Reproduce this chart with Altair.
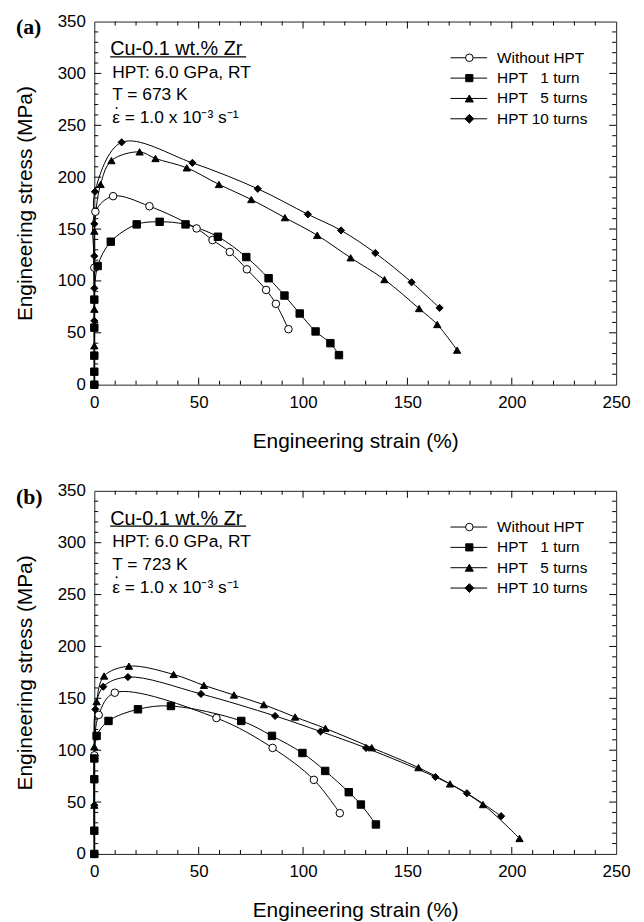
import altair as alt
import pandas as pd

SERIES = ["Without HPT", "HPT 1 turn", "HPT 5 turns", "HPT 10 turns"]
LEGEND_LABELS = ["Without HPT", "HPT \u20071 turn", "HPT \u20075 turns", "HPT 10 turns"]
SHAPES = ["circle", "square", "triangle-up", "diamond"]
FILLS = ["white", "black", "black", "black"]
SIZES = [58, 52, 66, 78]

X_LABELS = [0, 50, 100, 150, 200, 250]
Y_LABELS = [0, 50, 100, 150, 200, 250, 300, 350]
X_MAJOR = [50, 100, 150, 200]
X_MINOR = [v for v in range(10, 250, 10) if v % 50 != 0]
Y_MAJOR = [50, 100, 150, 200, 250, 300]
Y_MINOR = [v for v in range(10, 350, 10) if v % 50 != 0]

# ---- Panel (a): T = 673 K ----
a_none_strain = [0, 0, 0.5, 9.0, 26.4, 49.0, 56.6, 64.9, 73.1, 82.3, 87.0, 93.0]
a_none_stress = [0, 112.8, 166.7, 181.7, 172.0, 150.6, 139.4, 127.9, 111.2, 91.3, 77.9, 53.5]
a_1_strain = [0, 0, 0, 0, 0, 1.6, 7.9, 20.3, 31.3, 43.7, 59.2, 72.8, 83.5, 91.1, 98.4, 106.0, 113.1, 117.2]
a_1_stress = [0, 12.5, 28, 55, 82, 114.4, 137.8, 154.5, 157.0, 154.5, 142.6, 123.0, 102.6, 85.9, 68.6, 51.3, 40.0, 28.5]
a_5_strain = [0, 0, 0, 0, 3.0, 8.2, 21.7, 29.3, 44.3, 59.7, 75.2, 91.3, 106.8, 122.8, 139.0, 155.6, 164.3, 173.8]
a_5_stress = [0, 37.5, 72.8, 148.0, 193.0, 216.0, 224.4, 218.0, 209.0, 193.0, 178.5, 161.0, 144.0, 122.3, 101.3, 73.4, 58.0, 33.3]
a_10_strain = [0, 0, 0, 0, 0, 0.3, 13.1, 47.0, 78.3, 102.3, 118.2, 134.6, 152.0, 165.4]
a_10_stress = [0, 61.5, 93.0, 124.0, 155.0, 186.0, 233.6, 213.8, 188.8, 164.2, 148.7, 126.9, 98.7, 74.0]

# ---- Panel (b): T = 723 K ----
b_none_strain = [0, 0, 2.1, 9.8, 58.5, 85.4, 105.2, 117.6]
b_none_stress = [0, 95.0, 134.0, 155.4, 131.0, 102.2, 71.4, 39.3]
b_1_strain = [0, 0, 0, 0, 1.1, 6.8, 20.9, 36.7, 70.4, 85.1, 99.7, 110.6, 121.9, 127.7, 134.9]
b_1_stress = [0, 22.4, 72.0, 92.0, 113.8, 128.2, 139.4, 142.6, 128.2, 113.8, 97.3, 80.0, 59.5, 47.6, 28.4]
b_5_strain = [0, 0, 0, 1.1, 4.7, 16.6, 38.0, 52.5, 66.9, 81.2, 96.2, 110.7, 132.9, 155.3, 170.4, 186.2, 203.7]
b_5_stress = [0, 47.0, 103.2, 146.8, 171.5, 181.0, 173.0, 162.5, 153.2, 143.9, 132.0, 121.0, 102.4, 83.2, 67.5, 47.6, 14.9]
b_10_strain = [0, 0, 0, 0.5, 4.3, 16.1, 51.1, 86.6, 108.4, 130.2, 163.4, 178.5, 194.9]
b_10_stress = [0, 47.0, 92.0, 139.4, 161.2, 170.5, 154.2, 133.0, 118.0, 102.1, 74.2, 58.5, 36.4]

W, H = 526, 366
FONT = "Liberation Sans"

xs = alt.Scale(domain=[0, 250], nice=False, zero=False)
ys = alt.Scale(domain=[0, 350], nice=False, zero=False)
shape_scale = alt.Scale(domain=SERIES, range=SHAPES)
fill_scale = alt.Scale(domain=SERIES, range=FILLS)
size_scale = alt.Scale(domain=SERIES, range=SIZES)

X_AXIS = alt.Axis(values=X_LABELS, title="Engineering strain (%)", ticks=False, tickSize=0,
                  domain=False, grid=False, labelPadding=10, labelFlush=False,
                  titleX=W / 2, titleY=57, titleBaseline="middle", titleAlign="center")
Y_AXIS = alt.Axis(values=Y_LABELS, title="Engineering stress (MPa)", ticks=False, tickSize=0,
                  domain=False, grid=False, labelPadding=9, labelFlush=False,
                  titleX=-69, titleY=H / 2, titleAngle=-90, titleBaseline="middle",
                  titleAlign="center")


def XQ(field):
    return alt.X(field, scale=xs, axis=X_AXIS)


def YQ(field):
    return alt.Y(field, scale=ys, axis=Y_AXIS)


def make_df(strains, stresses):
    rows = []
    for name, sx, sy in zip(SERIES, strains, stresses):
        for i, (a, b) in enumerate(zip(sx, sy)):
            rows.append({"series": name, "strain": a, "stress": b, "idx": i})
    return pd.DataFrame(rows)


def tick_layer(vals, axis_ch, p0, p1):
    df = pd.DataFrame({"v": vals})
    base = alt.Chart(df).mark_rule(color="black", strokeWidth=1)
    if axis_ch == "y":
        return base.encode(y=YQ("v:Q"), x=alt.value(p0), x2=alt.value(p1))
    return base.encode(x=XQ("v:Q"), y=alt.value(p0), y2=alt.value(p1))


def text_layer(txt, x, y, size, font=FONT, weight="normal"):
    return alt.Chart(pd.DataFrame({"t": [txt]})).mark_text(
        align="left", baseline="middle", font=font, fontSize=size, fontWeight=weight, color="black"
    ).encode(x=alt.value(x), y=alt.value(y), text="t:N")


def legend_row(i):
    row = pd.DataFrame({"series": [SERIES[i]], "label": [LEGEND_LABELS[i]]})
    ly = 36.5 + 20.5 * i
    line = alt.Chart(row).mark_rule(color="black", strokeWidth=1).encode(
        x=alt.value(359), x2=alt.value(396), y=alt.value(ly)
    )
    pt = alt.Chart(row).mark_point(
        filled=True, stroke="black", strokeWidth=1, opacity=1,
        shape=SHAPES[i], fill=FILLS[i], size=SIZES[i]
    ).encode(x=alt.value(378), y=alt.value(ly))
    txt = alt.Chart(row).mark_text(align="left", baseline="middle", font=FONT, fontSize=15.5,
                                   color="black").encode(x=alt.value(406), y=alt.value(ly), text="label:N")
    return [line, pt, txt]


def panel(df, tag, temp):
    lines = alt.Chart(df).mark_line(color="black", strokeWidth=1, interpolate="catmull-rom").encode(
        x=XQ("strain:Q"),
        y=YQ("stress:Q"),
        detail="series:N",
        order="idx:Q",
    )
    points = alt.Chart(df).mark_point(filled=True, stroke="black", strokeWidth=1, opacity=1).encode(
        x=XQ("strain:Q"),
        y=YQ("stress:Q"),
        shape=alt.Shape("series:N", scale=shape_scale, legend=None),
        fill=alt.Fill("series:N", scale=fill_scale, legend=None),
        size=alt.Size("series:N", scale=size_scale, legend=None),
    )
    ticks = [
        tick_layer(Y_MAJOR, "y", 0, 7), tick_layer(Y_MINOR, "y", 0, 4),
        tick_layer(Y_MAJOR, "y", W - 7, W), tick_layer(Y_MINOR, "y", W - 4, W),
        tick_layer(X_MAJOR, "x", H - 7, H), tick_layer(X_MINOR, "x", H - 4, H),
        tick_layer(X_MAJOR, "x", 0, 7), tick_layer(X_MINOR, "x", 0, 4),
    ]
    texts = [
        text_layer(tag, -79, 6, 22, font="Liberation Serif", weight="bold"),
        text_layer("Cu-0.1 wt.% Zr", 16, 28, 20),
        text_layer("HPT: 6.0 GPa, RT", 18, 52, 17.5),
        text_layer(temp, 18, 74.5, 17.5),
        text_layer("\u03b5 = 1.0 x 10\u207b\u00b3 s\u207b\u00b9", 18, 97.5, 17.5),
    ]
    dot = alt.Chart(pd.DataFrame({"t": ["dot"]})).mark_point(
        shape="circle", filled=True, color="black", size=4, opacity=1
    ).encode(x=alt.value(22.5), y=alt.value(87))
    underline = alt.Chart(pd.DataFrame({"t": ["u"]})).mark_rule(color="black", strokeWidth=1.2).encode(
        x=alt.value(16), x2=alt.value(153), y=alt.value(35.5)
    )
    legend = []
    for i in range(len(SERIES)):
        legend += legend_row(i)
    return alt.layer(lines, points, *ticks, *texts, dot, underline, *legend).properties(
        width=W, height=H
    )


df_a = make_df([a_none_strain, a_1_strain, a_5_strain, a_10_strain],
               [a_none_stress, a_1_stress, a_5_stress, a_10_stress])
df_b = make_df([b_none_strain, b_1_strain, b_5_strain, b_10_strain],
               [b_none_stress, b_1_stress, b_5_stress, b_10_stress])

chart = alt.vconcat(
    panel(df_a, "(a)", "T = 673 K"),
    panel(df_b, "(b)", "T = 723 K"),
    spacing=107,
    bounds="flush",
).properties(
    padding={"left": 6, "top": 0, "right": 5, "bottom": 5}
).configure_axis(
    labelFont=FONT, labelFontSize=17, labelColor="black",
    titleFont=FONT, titleFontSize=21, titleColor="black", titleFontWeight="normal",
).configure_view(stroke="#222", strokeWidth=1)

chart.save("out.html", embed_options={"renderer": "svg", "actions": False})
